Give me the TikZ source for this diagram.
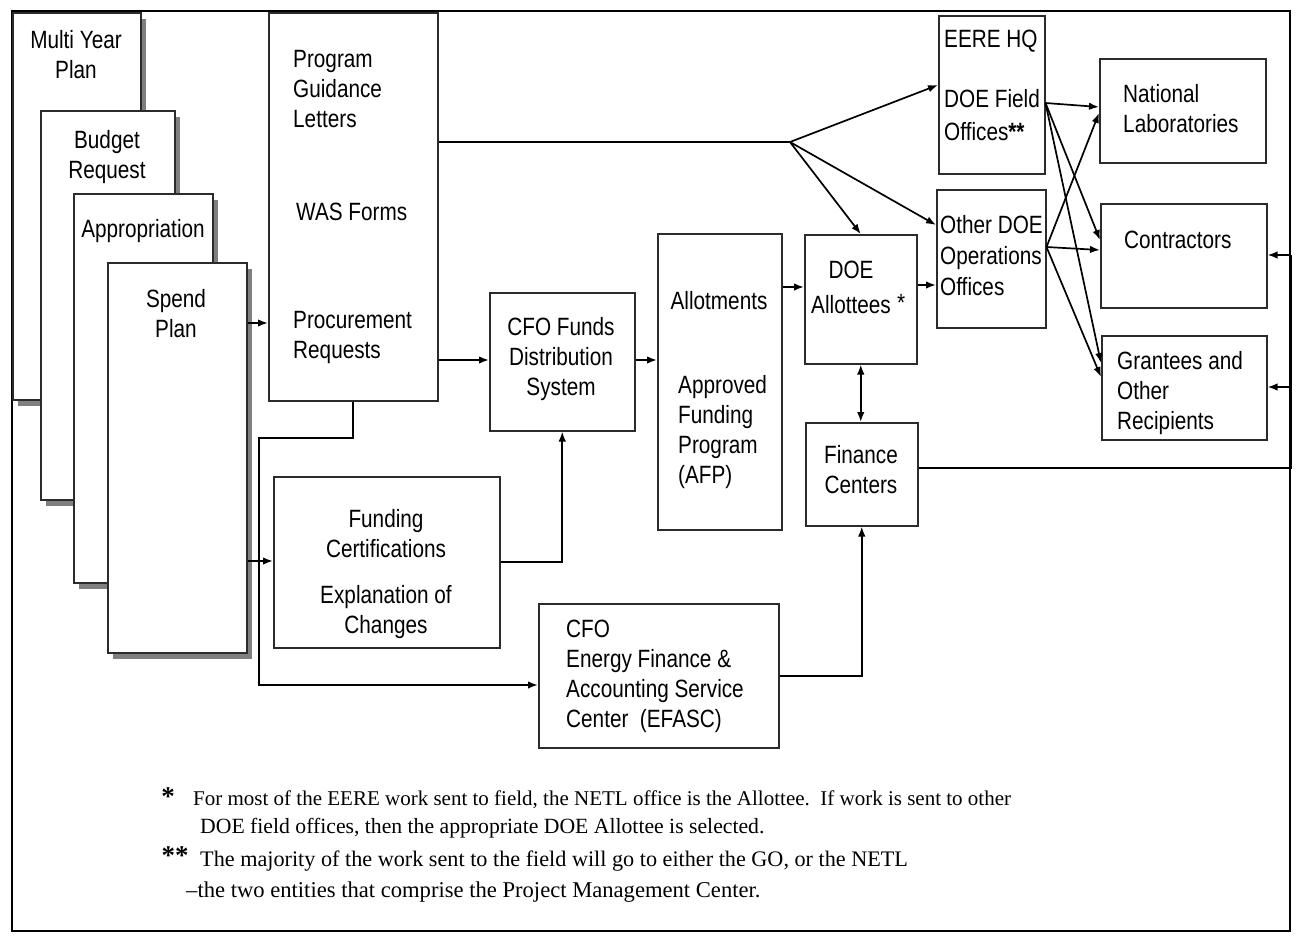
\documentclass[tikz,border=0pt]{standalone}
\usepackage{fontspec}
\setmainfont{Liberation Sans}[FakeStretch=0.83]
\newfontfamily\notefont{Liberation Serif}
\usepackage{tikz}
\usetikzlibrary{
    arrows.meta,
    shadows
}
\definecolor{linegray}{HTML}{2B2B2B}
\definecolor{shadowgray}{HTML}{7F7F7F}
\newcommand{\boxfont}{\fontsize{25}{30}\selectfont}
\newcommand{\notesize}[1]{\fontsize{#1}{28}\selectfont}

\tikzset{
    box/.style={draw=linegray, line width=1.5pt, fill=white, inner sep=0pt, anchor=north west},
    sheet/.style={box, drop shadow={shadow xshift=5pt, shadow yshift=-6pt, fill=shadowgray, opacity=1}},
    txt/.style={font=\boxfont, inner sep=0pt, align=left, anchor=north west},
    ctxt/.style={txt, align=center, anchor=north},
    note/.style={font=\notefont\notesize{#1}, inner sep=0pt, anchor=base west},
    star/.style={font=\notefont\fontsize{27}{27}\bfseries, inner sep=0pt, anchor=base},
    wire/.style={draw=black, line width=1.7pt},
    flow/.style={wire, -{Latex[length=10pt,width=7.5pt]}},
    both/.style={wire, {Latex[length=10pt,width=7.5pt]}-{Latex[length=10pt,width=7.5pt]}}
}

\begin{document}
\begin{tikzpicture}[x=1pt, y=-1pt]
                        \useasboundingbox (0,0) rectangle (1309,935);
                        \node[draw=black, line width=2.2pt, inner sep=0pt, anchor=north west, minimum width=1278pt, minimum height=920pt] (border) at (11,10) {};
                        % stacked plan sheets
                        \node[sheet, minimum width=128pt, minimum height=387pt] (myp) at (12,12) {};
                        \node[sheet, minimum width=134pt, minimum height=389pt] (bud) at (40,110) {};
                        \node[sheet, minimum width=139pt, minimum height=389pt] (app) at (73,193) {};
                        \node[sheet, minimum width=139pt, minimum height=390pt] (spd) at (107,262) {};
                        \node[ctxt] (myp-t) at (76,27) {\strut Multi Year\\Plan};
                        \node[ctxt] (bud-t) at (107,127) {\strut Budget\\Request};
                        \node[ctxt] (app-t) at (143,216) {\strut Appropriation};
                        \node[ctxt] (spd-t) at (176,286) {\strut Spend\\Plan};
                        % boxes
                        \node[box, minimum width=169pt, minimum height=388pt] (prog) at (268,12) {};
                        \node[box, minimum width=145pt, minimum height=138pt] (cfo) at (489,292) {};
                        \node[box, minimum width=124pt, minimum height=296pt] (allot) at (657,233) {};
                        \node[box, minimum width=112pt, minimum height=129pt] (allee) at (804,234) {};
                        \node[box, minimum width=112pt, minimum height=103pt] (fin) at (805,422) {};
                        \node[box, minimum width=226pt, minimum height=171pt] (fund) at (273,476) {};
                        \node[box, minimum width=240pt, minimum height=144pt] (efasc) at (538,603) {};
                        \node[box, minimum width=106pt, minimum height=158pt] (eere) at (938,15) {};
                        \node[box, minimum width=109pt, minimum height=138pt] (oth) at (936,189) {};
                        \node[box, minimum width=166pt, minimum height=104pt] (nat) at (1099,58) {};
                        \node[box, minimum width=166pt, minimum height=104pt] (ctr) at (1100,203) {};
                        \node[box, minimum width=165pt, minimum height=104pt] (grt) at (1101,335) {};
                        % box texts
                        \node[txt] (prog-t1) at (293,46) {\strut Program\\Guidance\\Letters};
                        \node[txt] (prog-t2) at (296,199) {\strut WAS Forms};
                        \node[txt] (prog-t3) at (293,307) {\strut Procurement\\Requests};
                        \node[ctxt] (cfo-t) at (561,314) {\strut CFO Funds\\Distribution\\System};
                        \node[ctxt] (allot-t1) at (719,288) {\strut Allotments};
                        \node[txt] (allot-t2) at (678,372) {\strut Approved\\Funding\\Program\\(AFP)};
                        \node[ctxt] (allee-t) at (851,257) {\strut DOE\\[5pt]Allottees};
                        \node[font=\boxfont, inner sep=0pt, anchor=base west] (allee-s) at (897,311) {*};
                        \node[ctxt] (fin-t) at (861,442) {\strut Finance\\Centers};
                        \node[ctxt] (fund-t1) at (386,506) {\strut Funding\\Certifications};
                        \node[ctxt] (fund-t2) at (386,582) {\strut Explanation of\\Changes};
                        \node[txt] (efasc-t) at (566,616) {\strut CFO\\Energy Finance \&\\Accounting Service\\Center~~(EFASC)};
                        \node[txt] (eere-t1) at (944,26) {\strut EERE HQ};
                        \node[txt] (eere-t2) at (944,86) {\strut DOE Field\\[3pt]Offices\textbf{**}};
                        \node[txt] (oth-t) at (940,212) {\strut Other DOE\\[1pt]Operations\\[1pt]Offices};
                        \node[txt] (nat-t) at (1123,81) {\strut National\\Laboratories};
                        \node[txt] (ctr-t) at (1124,227) {\strut Contractors};
                        \node[txt] (grt-t) at (1117,348) {\strut Grantees and\\Other\\Recipients};
                        % connectors
                        \coordinate (fork) at (790,142);
                        \coordinate (pb) at (353,438);
                        \coordinate (pl) at (259,438);
                        \draw[flow] (spd.east |- 0,323) -- (prog.west |- 0,323);
                        \draw[flow] (spd.east |- 0,561) -- (fund.west |- 0,561);
                        \draw[flow] (prog.east |- 0,360) -- (cfo.west |- 0,360);
                        \draw[flow] (cfo.east |- 0,360) -- (allot.west |- 0,360);
                        \draw[flow] (allot.east |- 0,287) -- (allee.west |- 0,287);
                        \draw[flow] (allee.east |- 0,285) -- (oth.west |- 0,285);
                        \draw[both] (allee.south) -- (allee.south |- fin.north);
                        \draw[flow] (prog.south) -- (prog.south |- pb) -- (pl) -- (pl |- 0,685) -- (efasc.west |- 0,685);
                        \draw[flow] (fund.east) -| (cfo.south);
                        \draw[flow] (efasc.east) -| (fin.south);
                        \draw[wire] (prog.east |- fork) -- (fork);
                        \draw[flow] (fork) -- (eere.west |- 0,85);
                        \draw[flow] (fork) -- (oth.west |- 0,225);
                        \draw[flow] (fork) -- (allee.north);
                        \draw[flow] (eere.east |- 0,103) -- (nat.west |- 0,107);
                        \draw[flow] (eere.east |- 0,103) -- (ctr.west |- 0,240);
                        \draw[flow] (eere.east |- 0,103) -- (grt.west |- 0,363);
                        \draw[flow] (oth.east |- 0,247) -- (nat.west |- 0,113);
                        \draw[flow] (oth.east |- 0,247) -- (ctr.west |- 0,250);
                        \draw[flow] (oth.east |- 0,247) -- (grt.west |- 0,377);
                        \draw[wire] (fin.east |- 0,468) -- (border.east |- 0,468) -- (border.east |- 0,255);
                        \draw[flow] (border.east |- 0,255) -- (ctr.east |- 0,255);
                        \draw[flow] (border.east |- 0,387) -- (grt.east |- 0,387);
                        % footnotes
                        \node[star] (star1) at (168,805) {*};
                        \node[note=21] (note1) at (193,805) {For most of the EERE work sent to field, the NETL office is the Allottee.\ \ If work is sent to other};
                        \node[note=21.7] (note2) at (200,833) {DOE field offices, then the appropriate DOE Allottee is selected.};
                        \node[star] (star2) at (175,864) {**};
                        \node[note=22.2] (note3) at (200,866) {The majority of the work sent to the field will go to either the GO, or the NETL};
                        \node[note=22.6] (note4) at (186,897) {\textendash the two entities that comprise the Project Management Center.};
                    \end{tikzpicture}
\end{document}
